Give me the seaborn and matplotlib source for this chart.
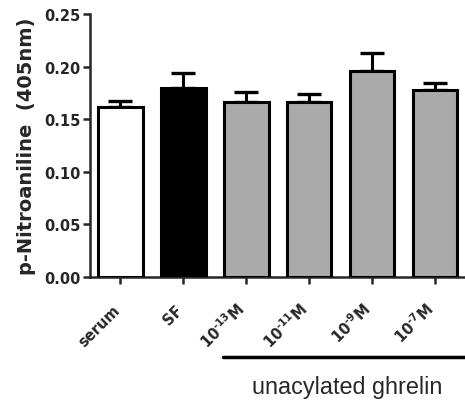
import matplotlib
matplotlib.use("Agg")
import matplotlib.pyplot as plt
import matplotlib.transforms as mtransforms
import seaborn as sns
import numpy as np
import pandas as pd

categories = ["serum", "SF", "10^-13M", "10^-11M", "10^-9M", "10^-7M"]
tick_labels = ["serum", "SF",
               r"$\mathrm{10^{\text{-13}}M}$", r"$\mathrm{10^{\text{-11}}M}$",
               r"$\mathrm{10^{\text{-9}}M}$", r"$\mathrm{10^{\text{-7}}M}$"]
means = [0.162, 0.180, 0.166, 0.166, 0.196, 0.178]
sems = [0.005, 0.014, 0.010, 0.008, 0.017, 0.006]
colors = ["#ffffff", "#000000", "#aaaaaa", "#aaaaaa", "#aaaaaa", "#aaaaaa"]
yticks = [0.00, 0.05, 0.10, 0.15, 0.20, 0.25]
group_label = "unacylated ghrelin"

sns.set_style("ticks")
plt.rcParams["font.family"] = ["DejaVu Sans"]
plt.rcParams["mathtext.fontset"] = "custom"
plt.rcParams["mathtext.rm"] = "DejaVu Sans:bold"
plt.rcParams["mathtext.bf"] = "DejaVu Sans:bold"
plt.rcParams["mathtext.it"] = "DejaVu Sans:bold"

df = pd.DataFrame({"cat": categories, "val": means})

fig = plt.figure(figsize=(4.65, 4.10), dpi=100)
ax = fig.add_axes([90 / 465, 1 - 278 / 410, 375 / 465, 263 / 410])

sns.barplot(data=df, x="cat", y="val", hue="cat", palette=colors, dodge=False,
            legend=False, errorbar=None, width=0.71, edgecolor="black",
            linewidth=2.2, ax=ax, zorder=3)

x = np.arange(len(categories))
ax.errorbar(x, means, yerr=[np.zeros(len(sems)), sems], fmt="none",
            ecolor="black", elinewidth=2.2, capsize=8.5, capthick=2.4, zorder=2)

ax.set_ylim(0, 0.25)
ax.set_xlim(-0.485, 5.48)
ax.set_yticks(yticks)
ax.set_yticklabels([f"{v:.2f}" for v in yticks], fontweight="bold", fontsize=10.5)
ax.set_xticks(x)
ax.set_xticklabels(tick_labels, rotation=45, ha="right", va="baseline",
                   rotation_mode="anchor", fontweight="bold", fontsize=10.5)
offset = mtransforms.ScaledTranslation(8 / 100, 0, fig.dpi_scale_trans)
for lab in ax.get_xticklabels():
    lab.set_transform(lab.get_transform() + offset)
ax.set_xlabel("")
ax.set_ylabel("p-Nitroaniline  (405nm)", fontweight="bold", fontsize=14)
ax.yaxis.set_label_coords(-0.144, 0.5)
sns.despine(ax=ax)
for s in ["left", "bottom"]:
    ax.spines[s].set_linewidth(1.8)
ax.tick_params(axis="y", width=1.8, length=5, pad=1.5)
ax.tick_params(axis="x", width=1.8, length=5, pad=19)

fig.add_artist(plt.Line2D([223 / 465, 1.0], [1 - 358 / 410] * 2,
                          color="black", linewidth=2.5, transform=fig.transFigure))
fig.text(347 / 465, 1 - 388 / 410, group_label, ha="center", va="center",
         fontsize=16.8, family="Liberation Sans")

fig.savefig("out.png", dpi=100)
